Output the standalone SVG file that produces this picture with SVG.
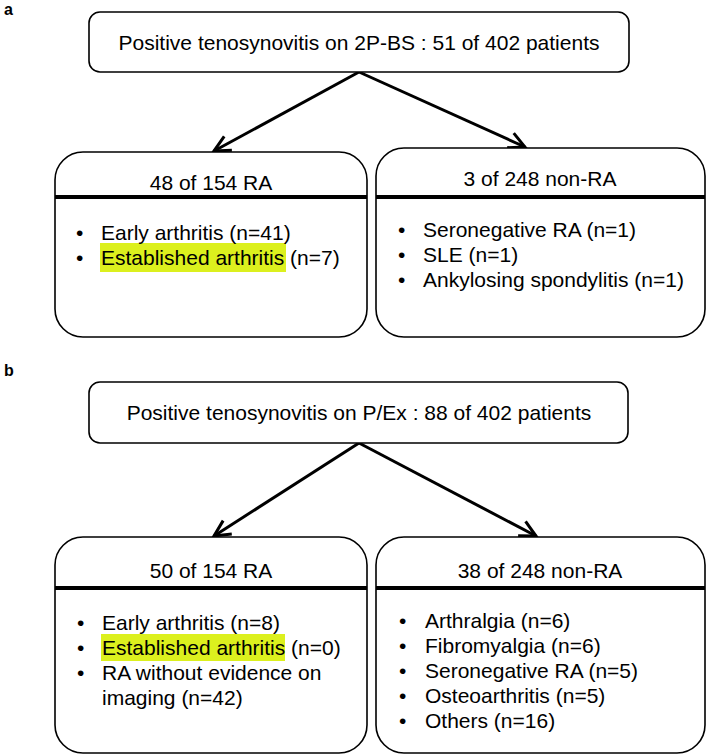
<svg xmlns="http://www.w3.org/2000/svg" width="707" height="756" viewBox="0 0 707 756">
<style>
text{font-family:"Liberation Sans",Arial,sans-serif;font-size:21px;fill:#000}
.lbl{font-weight:bold;font-size:16px}
.mid{text-anchor:middle}
.box{fill:#fff;stroke:#000;stroke-width:1.6}
.div{stroke:#000;stroke-width:4}
.hl{fill:#dcf01e}
.arr{stroke:#000;stroke-width:3;fill:none}
</style>
<defs>
<marker id="ah" markerUnits="userSpaceOnUse" markerWidth="24" markerHeight="24" viewBox="0 0 24 24" refX="20" refY="12" orient="auto">
<path d="M4,4 L20,12 L4,20" fill="none" stroke="#000" stroke-width="3"/>
</marker>
</defs>
<rect width="707" height="756" fill="#fff"/>
<text class="lbl" x="4" y="15">a</text>
<text class="lbl" x="4" y="376">b</text>
<g id="connectors">
<line class="arr" x1="359" y1="72" x2="214" y2="151" marker-end="url(#ah)"/>
<line class="arr" x1="359" y1="72" x2="525" y2="147" marker-end="url(#ah)"/>
<line class="arr" x1="359" y1="443" x2="214" y2="536" marker-end="url(#ah)"/>
<line class="arr" x1="359" y1="443" x2="536" y2="536" marker-end="url(#ah)"/>
</g>
<g id="top-a">
<rect class="box" x="89" y="12" width="540" height="60" rx="11"/>
<text class="mid" x="359" y="50">Positive tenosynovitis on 2P-BS : 51 of 402 patients</text>
</g>
<g id="ra-a">
<rect class="box" x="55" y="152" width="312" height="185" rx="28"/>
<line class="div" x1="55" y1="197" x2="367" y2="197"/>
<text class="mid" x="211" y="190">48 of 154 RA</text>
<rect class="hl" x="100" y="243" width="186" height="29"/>
<text x="76" y="240">•</text><text x="101" y="240">Early arthritis (n=41)</text>
<text x="76" y="265">•</text><text x="101" y="265">Established arthritis (n=7)</text>
</g>
<g id="nonra-a">
<rect class="box" x="376" y="148" width="329" height="189" rx="28"/>
<line class="div" x1="376" y1="197" x2="705" y2="197"/>
<text class="mid" x="540" y="186">3 of 248 non-RA</text>
<text x="398" y="237">•</text><text x="423" y="237">Seronegative RA (n=1)</text>
<text x="398" y="262">•</text><text x="423" y="262">SLE (n=1)</text>
<text x="398" y="287">•</text><text x="423" y="287">Ankylosing spondylitis (n=1)</text>
</g>
<g id="top-b">
<rect class="box" x="89" y="382" width="539" height="61" rx="11"/>
<text class="mid" x="359" y="420">Positive tenosynovitis on P/Ex : 88 of 402 patients</text>
</g>
<g id="ra-b">
<rect class="box" x="55" y="537" width="312" height="216" rx="28"/>
<line class="div" x1="55" y1="588" x2="367" y2="588"/>
<text class="mid" x="211" y="578">50 of 154 RA</text>
<rect class="hl" x="101" y="634" width="184" height="27"/>
<text x="77" y="630">•</text><text x="102" y="630">Early arthritis (n=8)</text>
<text x="77" y="655">•</text><text x="102" y="655">Established arthritis (n=0)</text>
<text x="77" y="680">•</text><text x="102" y="680">RA without evidence on</text>
<text x="102" y="705">imaging (n=42)</text>
</g>
<g id="nonra-b">
<rect class="box" x="376" y="537" width="329" height="216" rx="28"/>
<line class="div" x1="376" y1="588" x2="705" y2="588"/>
<text class="mid" x="540" y="578">38 of 248 non-RA</text>
<text x="399" y="628">•</text><text x="425" y="628">Arthralgia (n=6)</text>
<text x="399" y="653">•</text><text x="425" y="653">Fibromyalgia (n=6)</text>
<text x="399" y="678">•</text><text x="425" y="678">Seronegative RA (n=5)</text>
<text x="399" y="703">•</text><text x="425" y="703">Osteoarthritis (n=5)</text>
<text x="399" y="728">•</text><text x="425" y="728">Others (n=16)</text>
</g>
</svg>
